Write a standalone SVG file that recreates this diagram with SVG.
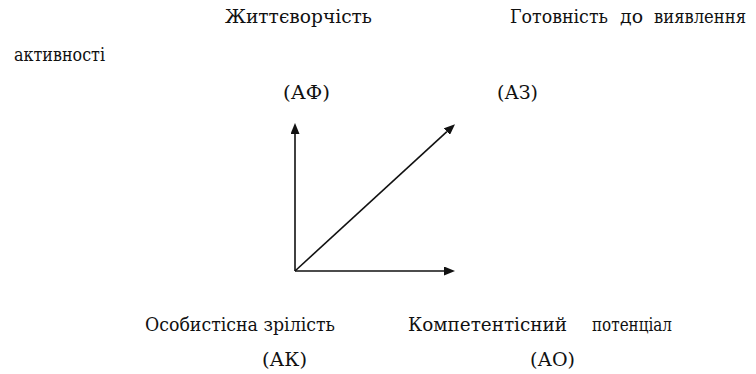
<svg xmlns="http://www.w3.org/2000/svg" width="756" height="374" viewBox="0 0 756 374">
<style>
text{font-family:"DejaVu Serif","Liberation Serif",serif;font-size:19px;fill:#111}
.ax{stroke:#111;stroke-width:1.6;fill:none}
</style>
<defs>
<marker id="ah" markerUnits="userSpaceOnUse" markerWidth="11" markerHeight="9" refX="0" refY="4.5" orient="auto" viewBox="0 0 11 9">
<path d="M0,0 L11,4.5 L0,9 z" fill="#111"/>
</marker>
</defs>
<rect width="756" height="374" fill="#fff"/>
<g id="connectors">
<path class="ax" d="M295,271 L295,134" marker-end="url(#ah)"/>
<path class="ax" d="M295,271 L444,271" marker-end="url(#ah)"/>
<path class="ax" d="M295,271 L446.9,131.6" marker-end="url(#ah)"/>
</g>
<g id="node-af">
<text x="225" y="23" textLength="147" lengthAdjust="spacingAndGlyphs">Життєворчість</text>
<text x="283" y="99" textLength="47" lengthAdjust="spacingAndGlyphs">(АФ)</text>
</g>
<g id="node-az">
<text x="510" y="23" textLength="98" lengthAdjust="spacingAndGlyphs">Готовність</text>
<text x="620" y="23" textLength="23" lengthAdjust="spacingAndGlyphs">до</text>
<text x="654" y="23" textLength="92" lengthAdjust="spacingAndGlyphs">виявлення</text>
<text x="14" y="61" textLength="91" lengthAdjust="spacingAndGlyphs">активності</text>
<text x="497" y="99" textLength="41" lengthAdjust="spacingAndGlyphs">(АЗ)</text>
</g>
<g id="node-ak">
<text x="145" y="331" textLength="190" lengthAdjust="spacingAndGlyphs">Особистісна зрілість</text>
<text x="262" y="366" textLength="45" lengthAdjust="spacingAndGlyphs">(АК)</text>
</g>
<g id="node-ao">
<text x="408" y="331" textLength="159" lengthAdjust="spacingAndGlyphs">Компетентісний</text>
<text x="592" y="331" textLength="80" lengthAdjust="spacingAndGlyphs">потенціал</text>
<text x="530" y="366" textLength="45" lengthAdjust="spacingAndGlyphs">(АО)</text>
</g>
</svg>
